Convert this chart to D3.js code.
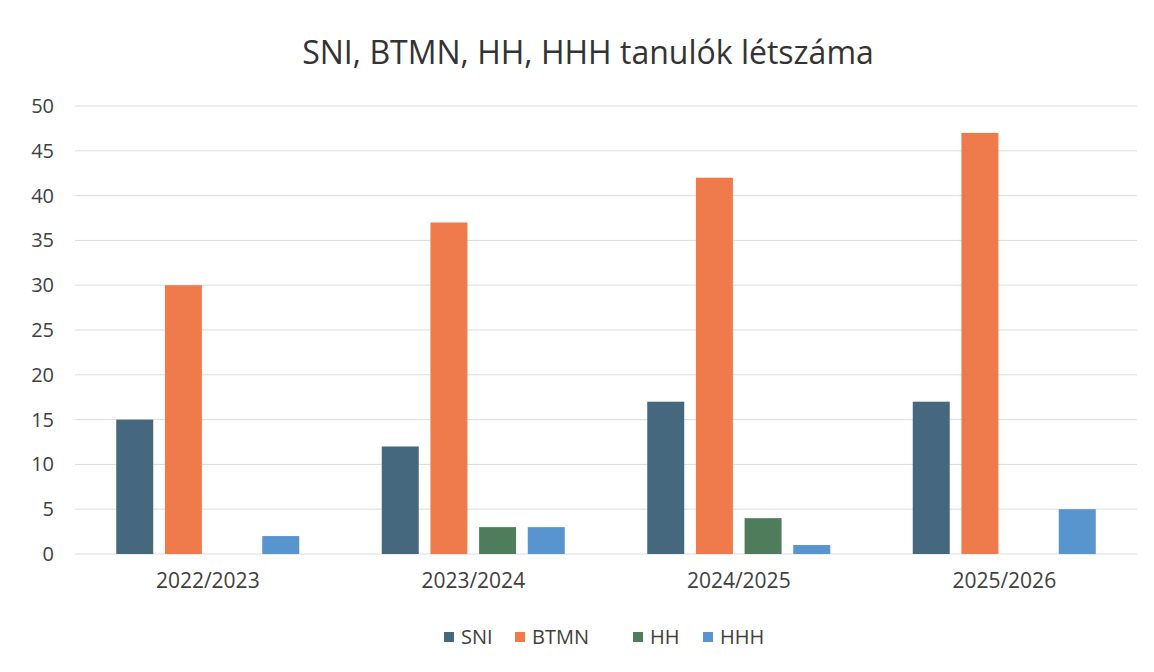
<!DOCTYPE html>
<html>
<head>
<meta charset="utf-8">
<script src="https://cdn.jsdelivr.net/npm/d3@7"></script>
<style>
  body { margin: 0; background: #fff; }
  text { font-family: "Open Sans", "Noto Sans", sans-serif; }
</style>
</head>
<body>
<div id="chart"></div>
<script>
  var years = ['2022/2023', '2023/2024', '2024/2025', '2025/2026'];
  var seriesNames = ['SNI', 'BTMN', 'HH', 'HHH'];
  var sni  = [15, 12, 17, 17];
  var btmn = [30, 37, 42, 47];
  var hh   = [0, 3, 4, 0];
  var hhh  = [2, 3, 1, 5];
  var yTicks = [0, 5, 10, 15, 20, 25, 30, 35, 40, 45, 50];
  var colors = ['#46687e', '#ef7b4d', '#4f7c5b', '#5894cd'];

  var seriesValues = [sni, btmn, hh, hhh];

  var width = 1154, height = 672;
  var plotLeft = 75, plotRight = 1137, plotTop = 106, plotBottom = 554;

  var svg = d3.select('#chart').append('svg')
    .attr('width', width)
    .attr('height', height);

  var x0 = d3.scaleBand().domain(years).range([plotLeft, plotRight]).padding(0);
  var x1 = d3.scaleBand().domain(seriesNames).range([-91.5, 91.5]).paddingInner(0.24).paddingOuter(0);
  var y = d3.scaleLinear().domain([0, 50]).range([plotBottom, plotTop]);

  //---- gridlines
  svg.append('g')
    .selectAll('line').data(yTicks).enter()
    .append('line')
    .attr('x1', plotLeft).attr('x2', plotRight)
    .attr('y1', function(d) { return y(d); })
    .attr('y2', function(d) { return y(d); })
    .attr('stroke', '#dcdcdc')
    .attr('stroke-width', 1);

  //---- y axis labels
  var yAxis = d3.axisLeft(y).tickValues(yTicks).tickSize(0).tickPadding(0);
  var gy = svg.append('g').attr('transform', 'translate(54,0)').call(yAxis);
  gy.select('.domain').remove();
  gy.selectAll('text')
    .attr('font-size', 20)
    .attr('fill', '#404040')
    .style('font-family', '"Open Sans", sans-serif');

  //---- x axis labels
  var xAxis = d3.axisBottom(x0).tickSize(0).tickPadding(0);
  var gx = svg.append('g').attr('transform', 'translate(0,' + (plotBottom + 19) + ')').call(xAxis);
  gx.select('.domain').remove();
  gx.selectAll('text')
    .attr('font-size', 21)
    .attr('fill', '#404040')
    .style('font-family', '"Open Sans", sans-serif');

  //---- bars
  var groups = svg.append('g').selectAll('g.year')
    .data(years).enter()
    .append('g')
    .attr('transform', function(d) { return 'translate(' + (x0(d) + x0.bandwidth() / 2) + ',0)'; });

  groups.selectAll('rect')
    .data(function(d, i) {
      return seriesNames.map(function(name, s) {
        return { name: name, value: seriesValues[s][i], color: colors[s] };
      });
    }).enter()
    .append('rect')
    .attr('x', function(d) { return x1(d.name); })
    .attr('width', x1.bandwidth())
    .attr('y', function(d) { return y(d.value); })
    .attr('height', function(d) { return y(0) - y(d.value); })
    .attr('fill', function(d) { return d.color; });

  //---- title
  svg.append('text')
    .attr('x', 588).attr('y', 64)
    .attr('text-anchor', 'middle')
    .attr('font-size', 32)
    .attr('fill', '#333')
    .text('SNI, BTMN, HH, HHH tanulók létszáma');

  //---- legend
  var legendX = [444, 515, 633, 703];
  var legend = svg.append('g').selectAll('g.leg')
    .data(seriesNames).enter()
    .append('g')
    .attr('transform', function(d, i) { return 'translate(' + legendX[i] + ',637)'; });

  legend.append('rect')
    .attr('x', 0).attr('y', -5)
    .attr('width', 10).attr('height', 10)
    .attr('fill', function(d, i) { return colors[i]; });

  legend.append('text')
    .attr('x', 17).attr('y', 7)
    .attr('font-size', 20)
    .attr('fill', '#404040')
    .text(function(d) { return d; });
</script>
</body>
</html>
